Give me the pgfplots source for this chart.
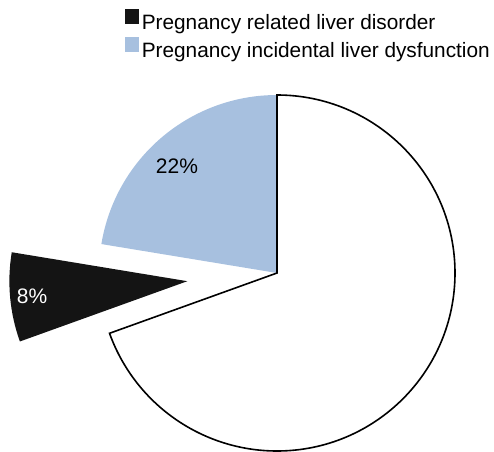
\documentclass[border=0pt]{standalone}
\usepackage{fontspec}
\setmainfont{Liberation Sans}
\usepackage{pgfplots}
\usepackage{pgfplotstable}
\pgfplotsset{compat=1.18}
\definecolor{pieblue}{RGB}{167,192,223}
\definecolor{pieblack}{RGB}{20,20,20}
\pgfplotstableread{
slice value
white 69.5
black 8.1
blue 22.4
}\piedata
\begin{document}
\begin{tikzpicture}
\pgfplotstablegetelem{0}{value}\of\piedata \let\vW\pgfplotsretval
\pgfplotstablegetelem{1}{value}\of\piedata \let\vK\pgfplotsretval
\pgfplotstablegetelem{2}{value}\of\piedata \let\vB\pgfplotsretval
\pgfmathsetmacro\aW{90-3.6*\vW}
\pgfmathsetmacro\aK{\aW-3.6*\vK}
\pgfmathsetmacro\aB{\aK-3.6*\vB}
\pgfmathsetmacro\mK{(\aW+\aK)/2}
\pgfmathsetmacro\cxK{277+90*cos(\mK)}
\pgfmathsetmacro\cyK{175+90*sin(\mK)}
\begin{axis}[
  x=0.5pt, y=0.5pt,
  xmin=0, xmax=494, ymin=0, ymax=448,
  hide axis, clip=false, disabledatascaling,
  legend style={draw=none, fill=none, inner sep=0pt, outer sep=0pt,
    at={(axis cs:125,439)}, anchor=north west,
    font=\fontsize{10.4}{12}\selectfont, row sep=0.2pt,
    nodes={inner xsep=1.5pt},
    /tikz/every even column/.append style={column sep=0pt}},
  legend cell align=left,
]
\path (axis cs:0,0) rectangle (axis cs:494,448);
\fill[pieblue] (axis cs:277,175) -- ++(\aK:89pt) arc[start angle=\aK, end angle=\aB, radius=89pt] -- cycle;
\filldraw[fill=white, draw=black, line width=0.8pt, line join=miter] (axis cs:277,175) -- ++(90:89pt) arc[start angle=90, end angle=\aW, radius=89pt] -- cycle;
\fill[pieblack] (axis cs:\cxK,\cyK) -- ++(\aW:89pt) arc[start angle=\aW, end angle=\aK, radius=89pt] -- cycle;
\node[font=\fontsize{10.5}{12}\selectfont, text=white] at (axis cs:32,152) {8\%};
\node[font=\fontsize{10.5}{12}\selectfont, text=black] at (axis cs:177,282) {22\%};
\addlegendimage{legend image code/.code={\fill[pieblack] (0pt,0pt) rectangle (6.5pt,7pt);}}
\addlegendentry{Pregnancy related liver disorder}
\addlegendimage{legend image code/.code={\fill[pieblue] (0pt,0pt) rectangle (6.5pt,7pt);}}
\addlegendentry{Pregnancy incidental liver dysfunction}
\end{axis}
\end{tikzpicture}
\end{document}
